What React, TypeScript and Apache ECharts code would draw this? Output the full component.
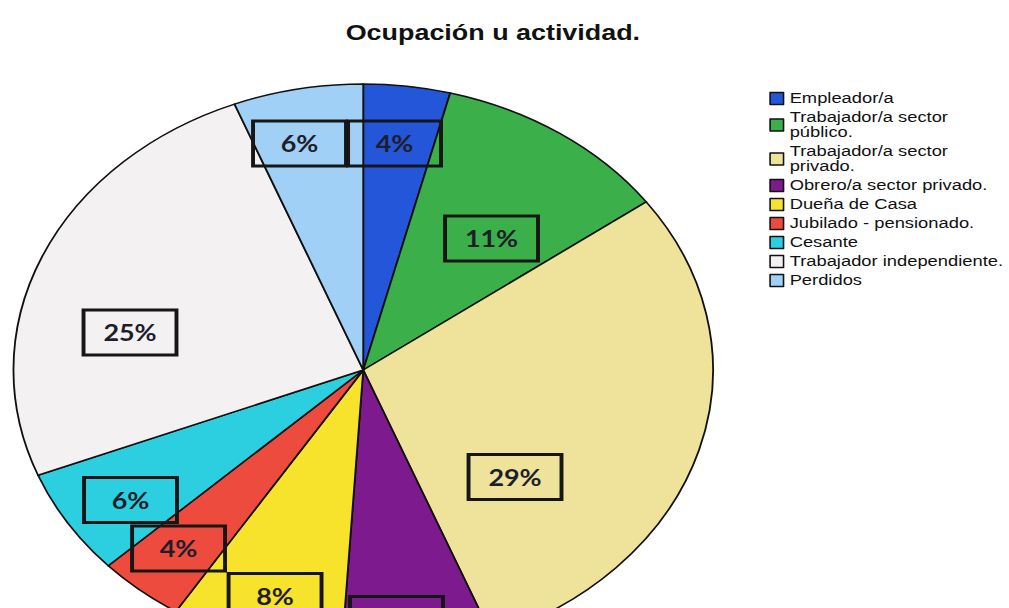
import React, { useEffect, useRef } from "react";
import * as echarts from "echarts";

const TITLE = "Ocupación u actividad.";
const categories = [
  "Empleador/a",
  "Trabajador/a sector\npúblico.",
  "Trabajador/a sector\nprivado.",
  "Obrero/a sector privado.",
  "Dueña de Casa",
  "Jubilado - pensionado.",
  "Cesante",
  "Trabajador independiente.",
  "Perdidos",
];
const values = [4, 11, 29, 7, 8, 4, 6, 25, 6];
const colors = [
  "#2356d8",
  "#3bb04a",
  "#efe39c",
  "#7c1a8e",
  "#f7e22c",
  "#ee4b3f",
  "#2ccfe0",
  "#f3f1f1",
  "#a0d0f5",
];
// label box centres (layout, unscaled chart pixels)
const LABEL_XY: [number, number][] = [
  [322.6, 143.5],
  [401.9, 238.5],
  [421.1, 477],
  [324.2, 619],
  [224.9, 596],
  [146, 548.5],
  [106.7, 500],
  [106.3, 332.5],
  [244.9, 143.5],
];

const W = 825;
const H = 608;
const SX = 1009 / W;

export default function App() {
  const ref = useRef<HTMLDivElement>(null);
  useEffect(() => {
    if (!ref.current) return;
    const chart = echarts.init(ref.current, null, { renderer: "svg" });
    chart.setOption({
      animation: false,
      backgroundColor: "#ffffff",
      title: {
        text: TITLE,
        left: 398,
        top: 16,
        textAlign: "center",
        textStyle: {
          fontFamily: "Liberation Sans, Arial, sans-serif",
          fontWeight: "bold",
          fontSize: 22,
          color: "#111",
        },
      },
      legend: {
        orient: "vertical",
        left: 624,
        top: 86,
        icon: "rect",
        itemWidth: 11,
        itemHeight: 12,
        itemGap: 4,
        data: categories,
        itemStyle: { borderColor: "#111", borderWidth: 1.3 },
        textStyle: {
          fontFamily: "Liberation Sans, Arial, sans-serif",
          fontSize: 15,
          lineHeight: 15,
          color: "#111",
        },
      },
      series: [
        {
          type: "pie",
          center: [297, 370],
          radius: 286,
          startAngle: 90,
          clockwise: true,
          data: categories.map((name, i) => ({
            name,
            value: values[i],
            itemStyle: { color: colors[i] },
          })),
          itemStyle: { borderColor: "#111", borderWidth: 1.5 },
          labelLine: { show: false },
          label: {
            show: true,
            position: "inside",
            formatter: (p: any) => p.value + "%",
            fontFamily: "Lato, sans-serif",
            fontWeight: "bold",
            fontSize: 22,
            color: "#1e1e2a",
            borderColor: "#161616",
            borderWidth: 1.6,
            width: 76,
            height: 45,
            lineHeight: 45,
            align: "center",
            verticalAlign: "middle",
            padding: 0,
            backgroundColor: "transparent",
          },
          labelLayout: (params: any) => {
            const p = LABEL_XY[params.dataIndex];
            return { x: p[0], y: p[1], align: "center", verticalAlign: "middle" };
          },
          emphasis: { disabled: true },
        },
      ],
    });
    return () => chart.dispose();
  }, []);
  return (
    <div
      ref={ref}
      style={{
        position: "absolute",
        left: 0,
        top: 0,
        width: W,
        height: H,
        transform: `scaleX(${SX})`,
        transformOrigin: "0 0",
      }}
    />
  );
}
